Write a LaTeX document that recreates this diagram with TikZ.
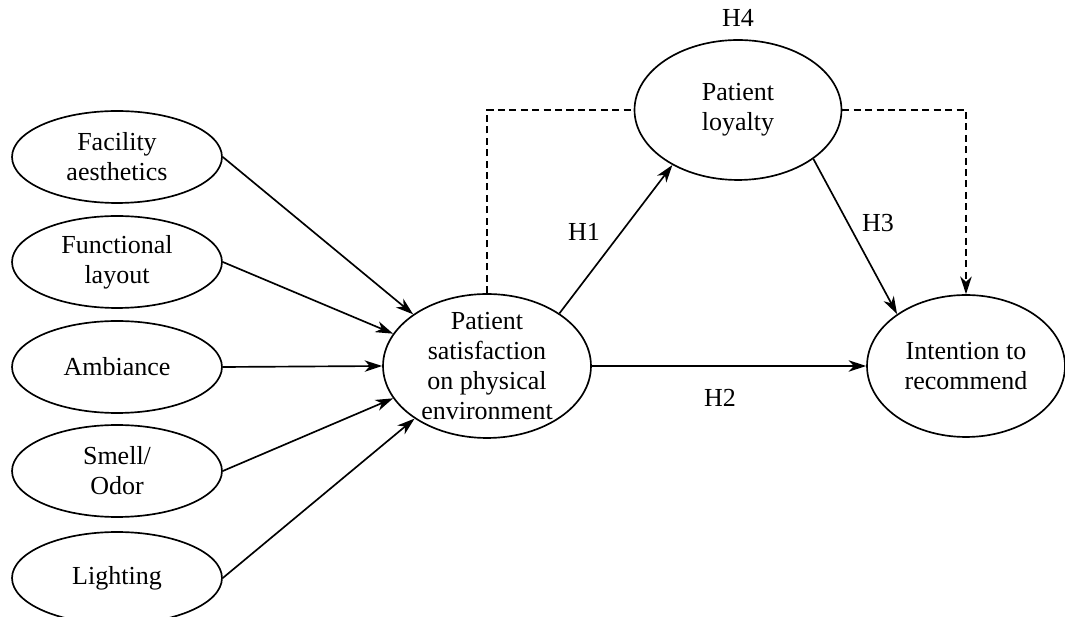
\documentclass[tikz,border=0pt]{standalone}
\usepackage{fontspec}
\setmainfont{Liberation Serif}
\usepackage{tikz}
\usetikzlibrary{shapes.geometric,arrows.meta,positioning}

\begin{document}
\begin{tikzpicture}[x=0.02cm, y=-0.02cm, font=\fontsize{14.8}{17}\selectfont]
        %styles
        \tikzstyle{factor}=[ellipse, draw, line width=0.95pt, inner sep=0pt, minimum width=4.2cm, minimum height=1.84cm, align=center]
        \tikzstyle{construct}=[ellipse, draw, line width=0.95pt, inner sep=0pt]
        \tikzstyle{effect}=[-{Stealth[length=10pt,width=6.5pt,inset=3pt]}, line width=0.95pt]
        \tikzstyle{mediate}=[dash pattern=on 4pt off 2.5pt, line width=0.95pt]
        \tikzstyle{hyp}=[inner sep=0pt]

        \useasboundingbox (0,0) rectangle (1065,617);

        %nodes
        \node[factor] (fa) at (117,157) {Facility\\aesthetics};
        \node[factor] (fl) at (117,262) {Functional\\layout};
        \node[factor] (am) at (117,367) {Ambiance};
        \node[factor] (so) at (117,471) {Smell/\\Odor};
        \node[factor] (li) at (117,578) {Lighting};

        \node[construct, minimum width=4.16cm, minimum height=2.88cm,
              label={[align=center]center:Patient\\satisfaction\\on physical\\environment}] (sat) at (487,366) {};
        \node[construct, minimum width=4.14cm, minimum height=2.8cm,
              label={[align=center]center:Patient\\loyalty}] (loy) at (738,110) {};
        \node[construct, minimum width=3.96cm, minimum height=2.84cm,
              label={[align=center]center:Intention to\\recommend}] (itr) at (966,366) {};

        \node[hyp] (h1) at (584,232) {H1};
        \node[hyp] (h2) at (720,398) {H2};
        \node[hyp] (h3) at (878,223) {H3};
        \node[hyp] (h4) at (738,18) {H4};

        %arrows
        \draw[effect] (fa.east)--(sat.145);
        \draw[effect] (fl.east)--(sat.161);
        \draw[effect] (am.east)--(sat.west);
        \draw[effect] (so.east)--(sat.199);
        \draw[effect] (li.east)--(sat.216);

        \draw[effect] (sat.36)--(loy.220);
        \draw[effect] (sat.east)--(itr.west);
        \draw[effect] (loy.-33)--(itr.143);

        \draw[mediate] (sat.north) |- (loy.west);
        \draw[mediate, -{Stealth[length=10pt,width=6.5pt,inset=3pt]}] (loy.east) -| (itr.north);

        \end{tikzpicture}
\end{document}
